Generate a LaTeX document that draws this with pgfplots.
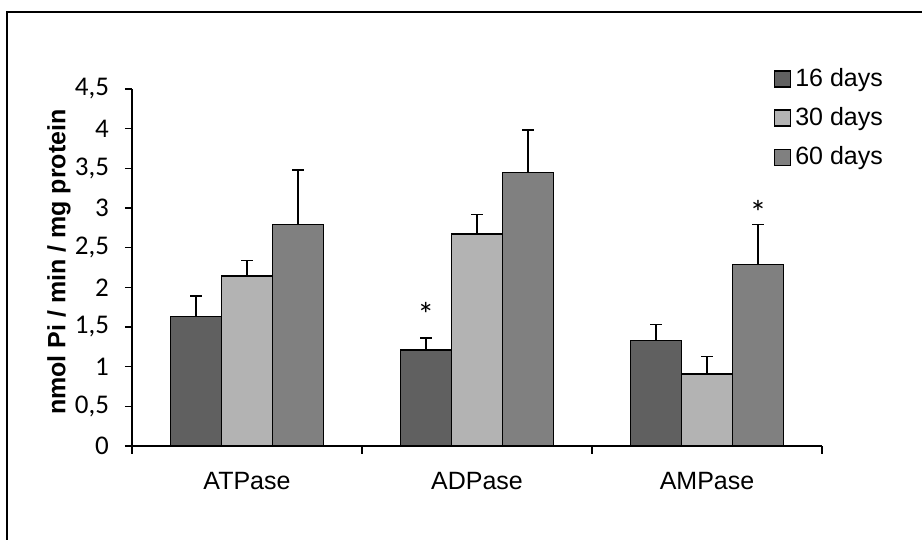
\documentclass[border=0pt]{standalone}
\usepackage{fontspec}
\setmainfont{Liberation Sans}
\newfontfamily\calibri{Carlito}
\usepackage{pgfplots}
\pgfplotsset{compat=1.18}
\definecolor{c16}{HTML}{606060}
\definecolor{c30}{HTML}{B3B3B3}
\definecolor{c60}{HTML}{808080}
\pgfplotsset{sqlegend/.style={legend image code/.code={\draw[##1, line width=0.6pt] (0pt,-4pt) rectangle (8pt,4pt);}}}

\begin{document}
\begin{tikzpicture}
\useasboundingbox (0,0) rectangle (461pt,270pt);
\draw[line width=0.9pt] (3.5pt,-20pt) rectangle (480pt,264pt);
\begin{axis}[
    at={(66pt,47pt)}, anchor=south west,
    scale only axis,
    width=345pt, height=178.5pt,
    ybar=0pt, bar width=25.5pt,
    xmin=-0.5, xmax=2.5,
    ymin=0, ymax=4.5,
    enlargelimits=false,
    clip=false,
    axis x line*=bottom,
    axis y line*=left,
    axis line style={line width=0.9pt, black},
    tick align=outside,
    xtick={0,1,2},
    xticklabels={ATPase,ADPase,AMPase},
    major x tick style={draw=none},
    minor xtick={-0.5,0.5,1.5,2.5},
    minor tick length=4pt,
    minor x tick style={line width=0.8pt, black},
    major tick length=3.5pt,
    ytick={0,0.5,1,1.5,2,2.5,3,3.5,4,4.5},
    y tick style={line width=0.8pt, black},
    /pgf/number format/assume math mode=true,
    /pgf/number format/use comma,
    yticklabel style={font=\calibri\fontsize{13.5}{15}\selectfont, xshift=-4.5pt},
    xticklabel style={font=\fontsize{12.5}{14}\selectfont, yshift=-6pt},
    ylabel={\textbf{nmol Pi / min / mg protein}},
    ylabel style={font=\fontsize{12.5}{14}\selectfont, at={(axis description cs:-0.106,0.515)}, anchor=center},
    legend style={draw=none, fill=none, at={(0.93,1.07)}, anchor=north west,
        font=\fontsize{12.5}{14}\selectfont, inner sep=0pt, row sep=5pt,
        legend cell align=left},
    error bars/error bar style={line width=0.7pt, black},
    error bars/error mark options={black, rotate=90, mark size=2.8pt, line width=0.8pt},
]
\addplot[fill=c16, draw=black, line width=0.8pt, sqlegend,
    error bars/.cd, y dir=plus, y explicit]
    coordinates {(0,1.63) +- (0,0.26) (1,1.21) +- (0,0.15) (2,1.33) +- (0,0.20)};
\addplot[fill=c30, draw=black, line width=0.8pt, sqlegend,
    error bars/.cd, y dir=plus, y explicit]
    coordinates {(0,2.14) +- (0,0.20) (1,2.67) +- (0,0.25) (2,0.91) +- (0,0.22)};
\addplot[fill=c60, draw=black, line width=0.8pt, sqlegend,
    error bars/.cd, y dir=plus, y explicit]
    coordinates {(0,2.79) +- (0,0.69) (1,3.45) +- (0,0.53) (2,2.29) +- (0,0.50)};
\legend{16 days,30 days,60 days}
\node[font=\calibri\fontsize{17}{17}\selectfont] at (axis cs:0.778,1.66) {*};
\node[font=\calibri\fontsize{17}{17}\selectfont] at (axis cs:2.222,2.95) {*};
\end{axis}
\end{tikzpicture}
\end{document}
